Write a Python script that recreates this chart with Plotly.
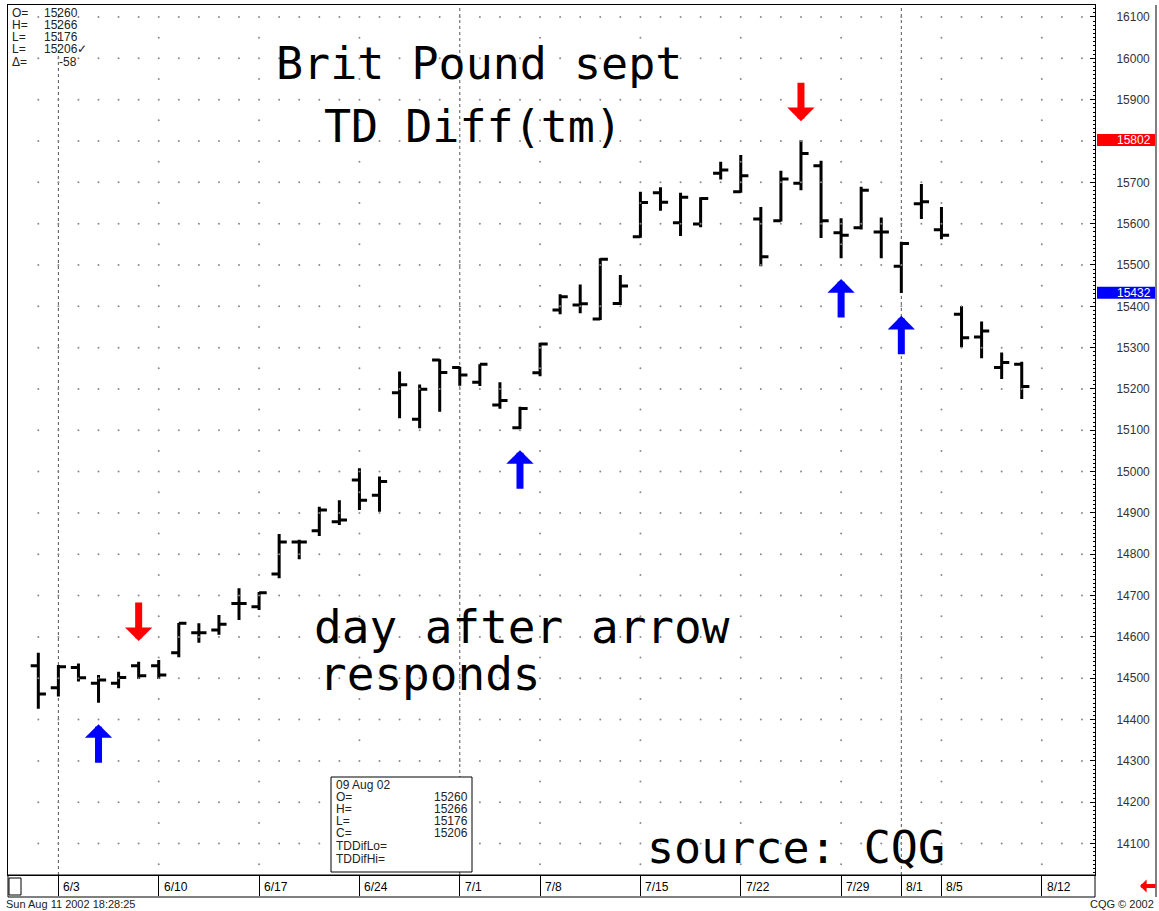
import plotly.graph_objects as go

# ---------------- data ----------------
dates = ["5/31", "6/3", "6/4", "6/5", "6/6", "6/7", "6/10", "6/11", "6/12", "6/13", "6/14",
         "6/17", "6/18", "6/19", "6/20", "6/21", "6/24", "6/25", "6/26", "6/27", "6/28",
         "7/1", "7/2", "7/3", "7/5", "7/8", "7/9", "7/10", "7/11", "7/12",
         "7/15", "7/16", "7/17", "7/18", "7/19", "7/22", "7/23", "7/24", "7/25", "7/26",
         "7/29", "7/30", "7/31", "8/1", "8/2", "8/5", "8/6", "8/7", "8/8", "8/9"]
opens = [14530, 14477, 14526, 14488, 14488, 14530, 14530, 14562, 14610, 14617, 14681,
         14673, 14752, 14830, 14857, 14879, 14980, 14943, 15191, 15127, 15270,
         15252, 15216, 15161, 15106, 15239, 15391, 15403, 15369, 15407,
         15568, 15675, 15602, 15599, 15722, 15677, 15611, 15607, 15698, 15740,
         15578, 15590, 15580, 15497, 15648, 15585, 15381, 15326, 15252, 15260]
highs = [14562, 14532, 14536, 14508, 14516, 14540, 14544, 14634, 14633, 14653, 14718,
         14709, 14849, 14835, 14915, 14931, 15008, 14988, 15242, 15211, 15272,
         15254, 15260, 15216, 15157, 15312, 15429, 15453, 15516, 15476,
         15677, 15688, 15675, 15664, 15750, 15766, 15640, 15728, 15802, 15752,
         15613, 15689, 15615, 15556, 15696, 15640, 15401, 15363, 15288, 15266]
lows = [14426, 14456, 14492, 14441, 14476, 14498, 14498, 14551, 14586, 14605, 14641,
        14665, 14742, 14788, 14844, 14871, 14907, 14903, 15129, 15105, 15145,
        15208, 15207, 15152, 15103, 15231, 15381, 15383, 15367, 15403,
        15566, 15631, 15570, 15591, 15707, 15675, 15497, 15605, 15681, 15565,
        15516, 15586, 15516, 15432, 15611, 15562, 15301, 15274, 15224, 15176]
closes = [14462, 14528, 14501, 14496, 14502, 14506, 14508, 14633, 14610, 14631, 14681,
          14707, 14830, 14830, 14907, 14883, 14931, 14976, 15210, 15199, 15240,
          15234, 15260, 15172, 15153, 15309, 15423, 15406, 15514, 15449,
          15651, 15652, 15664, 15661, 15730, 15716, 15520, 15708, 15770, 15607,
          15572, 15681, 15580, 15552, 15653, 15572, 15324, 15340, 15264, 15206]

date_ticks = ["6/3", "6/10", "6/17", "6/24", "7/1", "7/8", "7/15", "7/22", "7/29", "8/1", "8/5", "8/12"]
month_starts = ["6/3", "7/1", "8/1"]
price_ticks = [p for p in range(14100, 16101, 100) if p != 15800]

up_dates = ["6/5", "7/5", "7/29", "8/1"]
up_prices = [14389, 15052, 15466, 15377]
down_dates = ["6/7", "7/25"]
down_prices = [14590, 15848]

marked_high = 15802
marked_low = 15432

last_info_labels = ["O=", "H=", "L=", "L=", "Δ="]
last_info_values = ["15260", "15266", "15176", "15206✓", "-58"]
box_date = "09 Aug 02"
box_labels = ["O=", "H=", "L=", "C="]
box_values = ["15260", "15266", "15176", "15206"]

# ---------------- helpers ----------------
W, H = 1159, 911
L, R, T, B = 8, 1095, 5, 875


def idx(d):
    return dates.index(d) if d in dates else len(dates)


def xp(px):
    return (px - L) / (R - L)


def yp(py):
    return (B - py) / (B - T)


x_idx = list(range(len(dates)))
XMIN, XMAX = -1.51, 52.65
YMIN, YMAX = 14024, 16129

fig = go.Figure()

# grid dots
gx, gy = [], []
for i in range(0, 53):
    for p in range(14100, 16101, 100):
        gx.append(i)
        gy.append(p)
week_cols = [idx(d) for d in date_ticks if d not in month_starts]
for i in week_cols:
    for p in range(14050, 16101, 100):
        gx.append(i)
        gy.append(p)
fig.add_trace(go.Scatter(x=gx, y=gy, mode="markers",
                         marker=dict(size=2, color="#8a8a8a"),
                         hoverinfo="skip", showlegend=False))

fig.add_trace(go.Ohlc(
    x=x_idx, open=opens, high=highs, low=lows, close=closes,
    increasing=dict(line=dict(color="black", width=3)),
    decreasing=dict(line=dict(color="black", width=3)),
    tickwidth=0.38, showlegend=False))

shapes = []
for d in month_starts:
    shapes.append(dict(type="line", xref="x", yref="paper", x0=idx(d), x1=idx(d), y0=0, y1=1,
                       line=dict(color="#555555", width=1, dash="dot"), layer="below"))
# date axis box
shapes.append(dict(type="rect", xref="paper", yref="paper", x0=0, x1=1, y0=yp(897), y1=0,
                   line=dict(color="black", width=1)))
shapes.append(dict(type="rect", xref="paper", yref="paper", x0=xp(9), x1=xp(21), y0=yp(895), y1=yp(878),
                   line=dict(color="black", width=1), fillcolor="white"))
# right border
shapes.append(dict(type="line", xref="paper", yref="paper", x0=xp(1156), x1=xp(1156), y0=yp(897), y1=1,
                   line=dict(color="black", width=1)))
# value labels on price axis
shapes.append(dict(type="rect", xref="paper", yref="y", x0=xp(1097), x1=xp(1155),
                   y0=marked_high - 14, y1=marked_high + 15, fillcolor="red", line=dict(width=0)))
shapes.append(dict(type="rect", xref="paper", yref="y", x0=xp(1097), x1=xp(1155),
                   y0=marked_low - 14, y1=marked_low + 15, fillcolor="blue", line=dict(width=0)))
# info box
shapes.append(dict(type="rect", xref="paper", yref="paper", x0=xp(331), x1=xp(472), y0=yp(872), y1=yp(777),
                   line=dict(color="black", width=1), fillcolor="white", layer="above"))

ann = []
big = dict(family="DejaVu Sans Mono", size=45, color="black")
big2 = dict(family="DejaVu Sans Mono", size=46, color="black")


def ptext(text, x, y, font, xanchor="left"):
    ann.append(dict(text=text, x=xp(x), y=yp(y), xref="paper", yref="paper", xanchor=xanchor,
                    yanchor="middle", showarrow=False, font=font))


ptext("Brit Pound sept", 479, 64, big, "center")
ptext("TD Diff(tm)", 473, 127, big, "center")
ptext("day after arrow", 312, 627, big2)
ptext("responds", 317, 674, big2)
ptext("source: CQG", 796, 847, big, "center")

for d, p in zip(up_dates, up_prices):
    ann.append(dict(x=idx(d), y=p, xref="x", yref="y", text="", showarrow=True, ax=0, ay=40,
                    arrowhead=1, arrowwidth=7, arrowsize=0.65, arrowcolor="#0000ff", standoff=0))
for d, p in zip(down_dates, down_prices):
    ann.append(dict(x=idx(d), y=p, xref="x", yref="y", text="", showarrow=True, ax=0, ay=-40,
                    arrowhead=1, arrowwidth=7, arrowsize=0.65, arrowcolor="#ff0000", standoff=0))

small = dict(family="Liberation Sans, Arial", size=12, color="#222")
for k, (lab, val) in enumerate(zip(last_info_labels, last_info_values)):
    ypix = [13, 25, 37, 49, 62][k]
    ptext(lab, 10, ypix, small)
    ptext(val, 42 if k < 4 else 57, ypix, small)

ptext(box_date, 334, 785, small)
for k, (lab, val) in enumerate(zip(box_labels, box_values)):
    ypix = 797 + 12 * k
    ptext(lab, 334, ypix, small)
    ptext(val, 470, ypix, small, "right")
ptext("TDDifLo=", 334, 846, small)
ptext("TDDifHi=", 334, 859, small)

# date labels
for d in date_ticks:
    ann.append(dict(text=d, x=idx(d) + 0.15, y=yp(887), xref="x", yref="paper", xanchor="left",
                    yanchor="middle", showarrow=False,
                    font=dict(family="Liberation Sans, Arial", size=12, color="black")))

# price axis value labels
for p in (marked_high, marked_low):
    ann.append(dict(text=str(p), x=xp(1153), y=p, xref="paper", yref="y", xanchor="right",
                    yanchor="middle", showarrow=False,
                    font=dict(family="Liberation Sans, Arial", size=12, color="white")))

foot = dict(family="Liberation Sans, Arial", size=11, color="#222")
ptext("Sun Aug 11 2002 18:28:25", 4, 904, foot)
ptext("CQG © 2002", 1156, 904, foot, "right")
ann.append(dict(x=xp(1140), y=yp(886), xref="paper", yref="paper", text="", showarrow=True,
                ax=17, ay=0, arrowhead=1, arrowwidth=4, arrowsize=0.55, arrowcolor="red", standoff=0))

fig.update_layout(
    width=W, height=H,
    margin=dict(l=L, r=W - R, t=T, b=H - B, pad=0, autoexpand=False),
    paper_bgcolor="white", plot_bgcolor="white",
    showlegend=False,
    shapes=shapes, annotations=ann,
    xaxis=dict(range=[XMIN, XMAX], rangeslider=dict(visible=False), showgrid=False, zeroline=False,
               tickmode="array", tickvals=[idx(d) for d in date_ticks], showticklabels=False,
               ticks="outside", ticklen=20, tickcolor="black", tickwidth=1,
               showline=True, linecolor="black", linewidth=1, mirror=True),
    yaxis=dict(range=[YMIN, YMAX], side="right", showgrid=False, zeroline=False,
               tickmode="array", tickvals=price_ticks, ticktext=[str(p) for p in price_ticks],
               ticks="inside", ticklen=5, tickcolor="black",
               minor=dict(dtick=10, ticks="inside", ticklen=2, tickcolor="black"),
               ticklabelstandoff=18,
               tickfont=dict(family="Liberation Sans, Arial", size=12, color="#333"),
               showline=True, linecolor="black", linewidth=1, mirror=True),
)

fig.write_html("out.html", config={"displayModeBar": False},
               post_script="document.body.style.margin='0px';document.body.style.padding='0px';")
